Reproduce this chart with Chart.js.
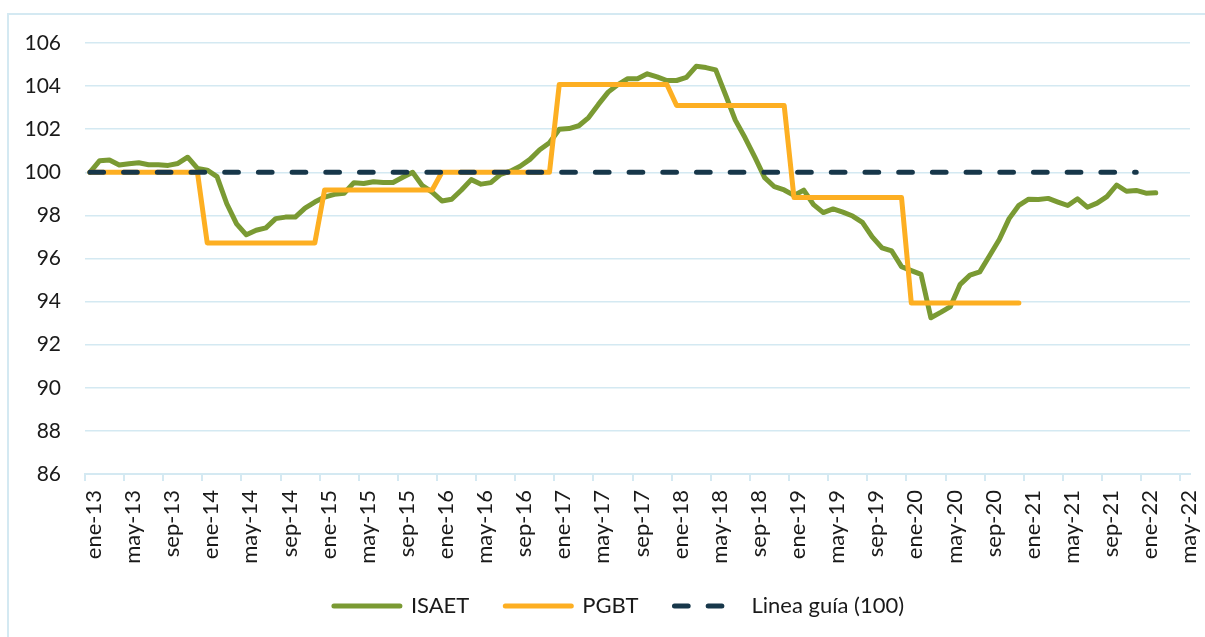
<!DOCTYPE html>
<html>
<head>
<meta charset="utf-8">
<script src="https://cdn.jsdelivr.net/npm/chart.js@4.4.0/dist/chart.umd.min.js"></script>
<style>
  html, body { margin: 0; padding: 0; background: #fff; overflow: hidden; }
  #frame { position: absolute; left: 7px; top: 13px; width: 1400px; height: 800px; border: 2px solid #d4e9f2; }
  #myChart { position: absolute; left: 0; top: 0; }
</style>
</head>
<body>
<div id="frame"></div>
<canvas id="myChart" width="1205" height="637"></canvas>
<script>
// monthly categories, ene-13 .. may-22
var categories = [
  'ene-13','feb-13','mar-13','abr-13','may-13','jun-13','jul-13','ago-13','sep-13','oct-13','nov-13','dic-13',
  'ene-14','feb-14','mar-14','abr-14','may-14','jun-14','jul-14','ago-14','sep-14','oct-14','nov-14','dic-14',
  'ene-15','feb-15','mar-15','abr-15','may-15','jun-15','jul-15','ago-15','sep-15','oct-15','nov-15','dic-15',
  'ene-16','feb-16','mar-16','abr-16','may-16','jun-16','jul-16','ago-16','sep-16','oct-16','nov-16','dic-16',
  'ene-17','feb-17','mar-17','abr-17','may-17','jun-17','jul-17','ago-17','sep-17','oct-17','nov-17','dic-17',
  'ene-18','feb-18','mar-18','abr-18','may-18','jun-18','jul-18','ago-18','sep-18','oct-18','nov-18','dic-18',
  'ene-19','feb-19','mar-19','abr-19','may-19','jun-19','jul-19','ago-19','sep-19','oct-19','nov-19','dic-19',
  'ene-20','feb-20','mar-20','abr-20','may-20','jun-20','jul-20','ago-20','sep-20','oct-20','nov-20','dic-20',
  'ene-21','feb-21','mar-21','abr-21','may-21','jun-21','jul-21','ago-21','sep-21','oct-21','nov-21','dic-21',
  'ene-22','feb-22','mar-22','abr-22','may-22'
];

var isaet = [
  100.0, 100.54, 100.57, 100.34, 100.4, 100.44, 100.35, 100.35, 100.32, 100.41, 100.7, 100.18,
  100.1, 99.8, 98.54, 97.61, 97.1, 97.31, 97.42, 97.85, 97.92, 97.92, 98.34, 98.62,
  98.85, 98.98, 99.03, 99.52, 99.48, 99.56, 99.53, 99.53, 99.77, 100.0, 99.38, 99.08,
  98.67, 98.75, 99.18, 99.66, 99.45, 99.52, 99.9, 100.05, 100.28, 100.6, 101.05, 101.37,
  102.0, 102.03, 102.16, 102.54, 103.15, 103.72, 104.07, 104.34, 104.34, 104.57, 104.43, 104.26,
  104.26, 104.4, 104.92, 104.86, 104.75, 103.6, 102.42, 101.6, 100.7, 99.75, 99.33, 99.18,
  98.93, 99.17, 98.5, 98.13, 98.3, 98.15, 97.97, 97.68, 97.0, 96.49, 96.35, 95.62,
  95.44, 95.26, 93.25, 93.5, 93.77, 94.8, 95.23, 95.38, 96.13, 96.88, 97.85, 98.47,
  98.75, 98.74, 98.79, 98.62, 98.46, 98.77, 98.38, 98.57, 98.87, 99.41, 99.12, 99.16,
  99.03, 99.05, null, null, null
];

var pgbt = [
  100, 100, 100, 100, 100, 100, 100, 100, 100, 100, 100, 100,
  96.72, 96.72, 96.72, 96.72, 96.72, 96.72, 96.72, 96.72, 96.72, 96.72, 96.72, 96.72,
  99.18, 99.18, 99.18, 99.18, 99.18, 99.18, 99.18, 99.18, 99.18, 99.18, 99.18, 99.18,
  100, 100, 100, 100, 100, 100, 100, 100, 100, 100, 100, 100,
  104.08, 104.08, 104.08, 104.08, 104.08, 104.08, 104.08, 104.08, 104.08, 104.08, 104.08, 104.08,
  103.1, 103.1, 103.1, 103.1, 103.1, 103.1, 103.1, 103.1, 103.1, 103.1, 103.1, 103.1,
  98.83, 98.83, 98.83, 98.83, 98.83, 98.83, 98.83, 98.83, 98.83, 98.83, 98.83, 98.83,
  93.93, 93.93, 93.93, 93.93, 93.93, 93.93, 93.93, 93.93, 93.93, 93.93, 93.93, 93.93,
  null, null, null, null, null, null, null, null, null, null, null, null,
  null, null, null, null, null
];

var guia = [
  100, 100, 100, 100, 100, 100, 100, 100, 100, 100, 100, 100,
  100, 100, 100, 100, 100, 100, 100, 100, 100, 100, 100, 100,
  100, 100, 100, 100, 100, 100, 100, 100, 100, 100, 100, 100,
  100, 100, 100, 100, 100, 100, 100, 100, 100, 100, 100, 100,
  100, 100, 100, 100, 100, 100, 100, 100, 100, 100, 100, 100,
  100, 100, 100, 100, 100, 100, 100, 100, 100, 100, 100, 100,
  100, 100, 100, 100, 100, 100, 100, 100, 100, 100, 100, 100,
  100, 100, 100, 100, 100, 100, 100, 100, 100, 100, 100, 100,
  100, 100, 100, 100, 100, 100, 100, 100, 100, 100, 100, 100,
  null, null, null, null, null
];

var seriesNames = ['ISAET', 'PGBT', 'Linea guía (100)'];

var gridColor = '#d4e9f2';
var textColor = '#1a1a1a';

Chart.defaults.font.family = 'Lato, "Open Sans", sans-serif';
Chart.defaults.font.size = 21;
Chart.defaults.color = textColor;

// nudge the legend row to where the original sits (it is not centred on the canvas)
const legendShift = {
  id: 'legendShift',
  afterLayout(chart) {
    const lg = chart.legend;
    lg.left += 24;
    lg.right += 24;
    lg.top -= 10;
    lg.bottom -= 10;
  }
};

const data = {
  labels: categories,
  datasets: [
    {
      label: seriesNames[0],
      data: isaet,
      borderColor: '#7a9a33',
      borderWidth: 5,
      order: 3
    },
    {
      label: seriesNames[1],
      data: pgbt,
      borderColor: '#fdaf22',
      borderWidth: 5,
      order: 2
    },
    {
      label: seriesNames[2],
      data: guia,
      borderColor: '#17374a',
      borderWidth: 5,
      borderDash: [13.7, 20],
      order: 1
    }
  ]
};

const config = {
  type: 'line',
  data: data,
  options: {
    responsive: false,
    animation: false,
    events: [],
    elements: {
      point: { radius: 0 },
      line: { tension: 0, borderCapStyle: 'round', borderJoinStyle: 'round' }
    },
    layout: {
      padding: { left: 0, right: 15, top: 43, bottom: 0 }
    },
    scales: {
      x: {
        type: 'category',
        offset: true,
        grid: {
          offset: true,
          drawOnChartArea: false,
          drawTicks: true,
          tickLength: 7,
          lineWidth: 2,
          color: ctx => (ctx.index % 4 === 0 ? gridColor : 'rgba(0,0,0,0)')
        },
        border: { display: true, color: gridColor, width: 2 },
        ticks: {
          autoSkip: false,
          maxRotation: 90,
          minRotation: 90,
          padding: 9,
          labelOffset: 4,
          font: { size: 22 },
          callback: function(value, index) {
            return index % 4 === 0 ? this.getLabelForValue(value) : '';
          }
        },
        afterFit: s => {
          s.height = 95;
          s.paddingLeft = 0;
          s.paddingRight = 0;
        }
      },
      y: {
        min: 86,
        max: 106,
        ticks: { stepSize: 2, padding: 24 },
        grid: { color: gridColor, lineWidth: 1.5, drawTicks: false },
        border: { display: false },
        afterFit: s => { s.width = 85; }
      }
    },
    plugins: {
      tooltip: { enabled: false },
      legend: {
        position: 'bottom',
        labels: {
          usePointStyle: true,
          pointStyle: 'line',
          pointStyleWidth: 66,
          padding: 36,
          font: { size: 22 },
          generateLabels: chart => chart.data.datasets.map((ds, i) => ({
            text: ds.label,
            fillStyle: ds.borderColor,
            strokeStyle: ds.borderColor,
            fontColor: textColor,
            lineWidth: ds.borderWidth,
            lineDash: ds.borderDash || [],
            lineCap: 'round',
            pointStyle: 'line',
            hidden: false,
            datasetIndex: i
          }))
        }
      }
    }
  },
  plugins: [legendShift]
};

const myChart = new Chart(document.getElementById('myChart'), config);
</script>
</body>
</html>
